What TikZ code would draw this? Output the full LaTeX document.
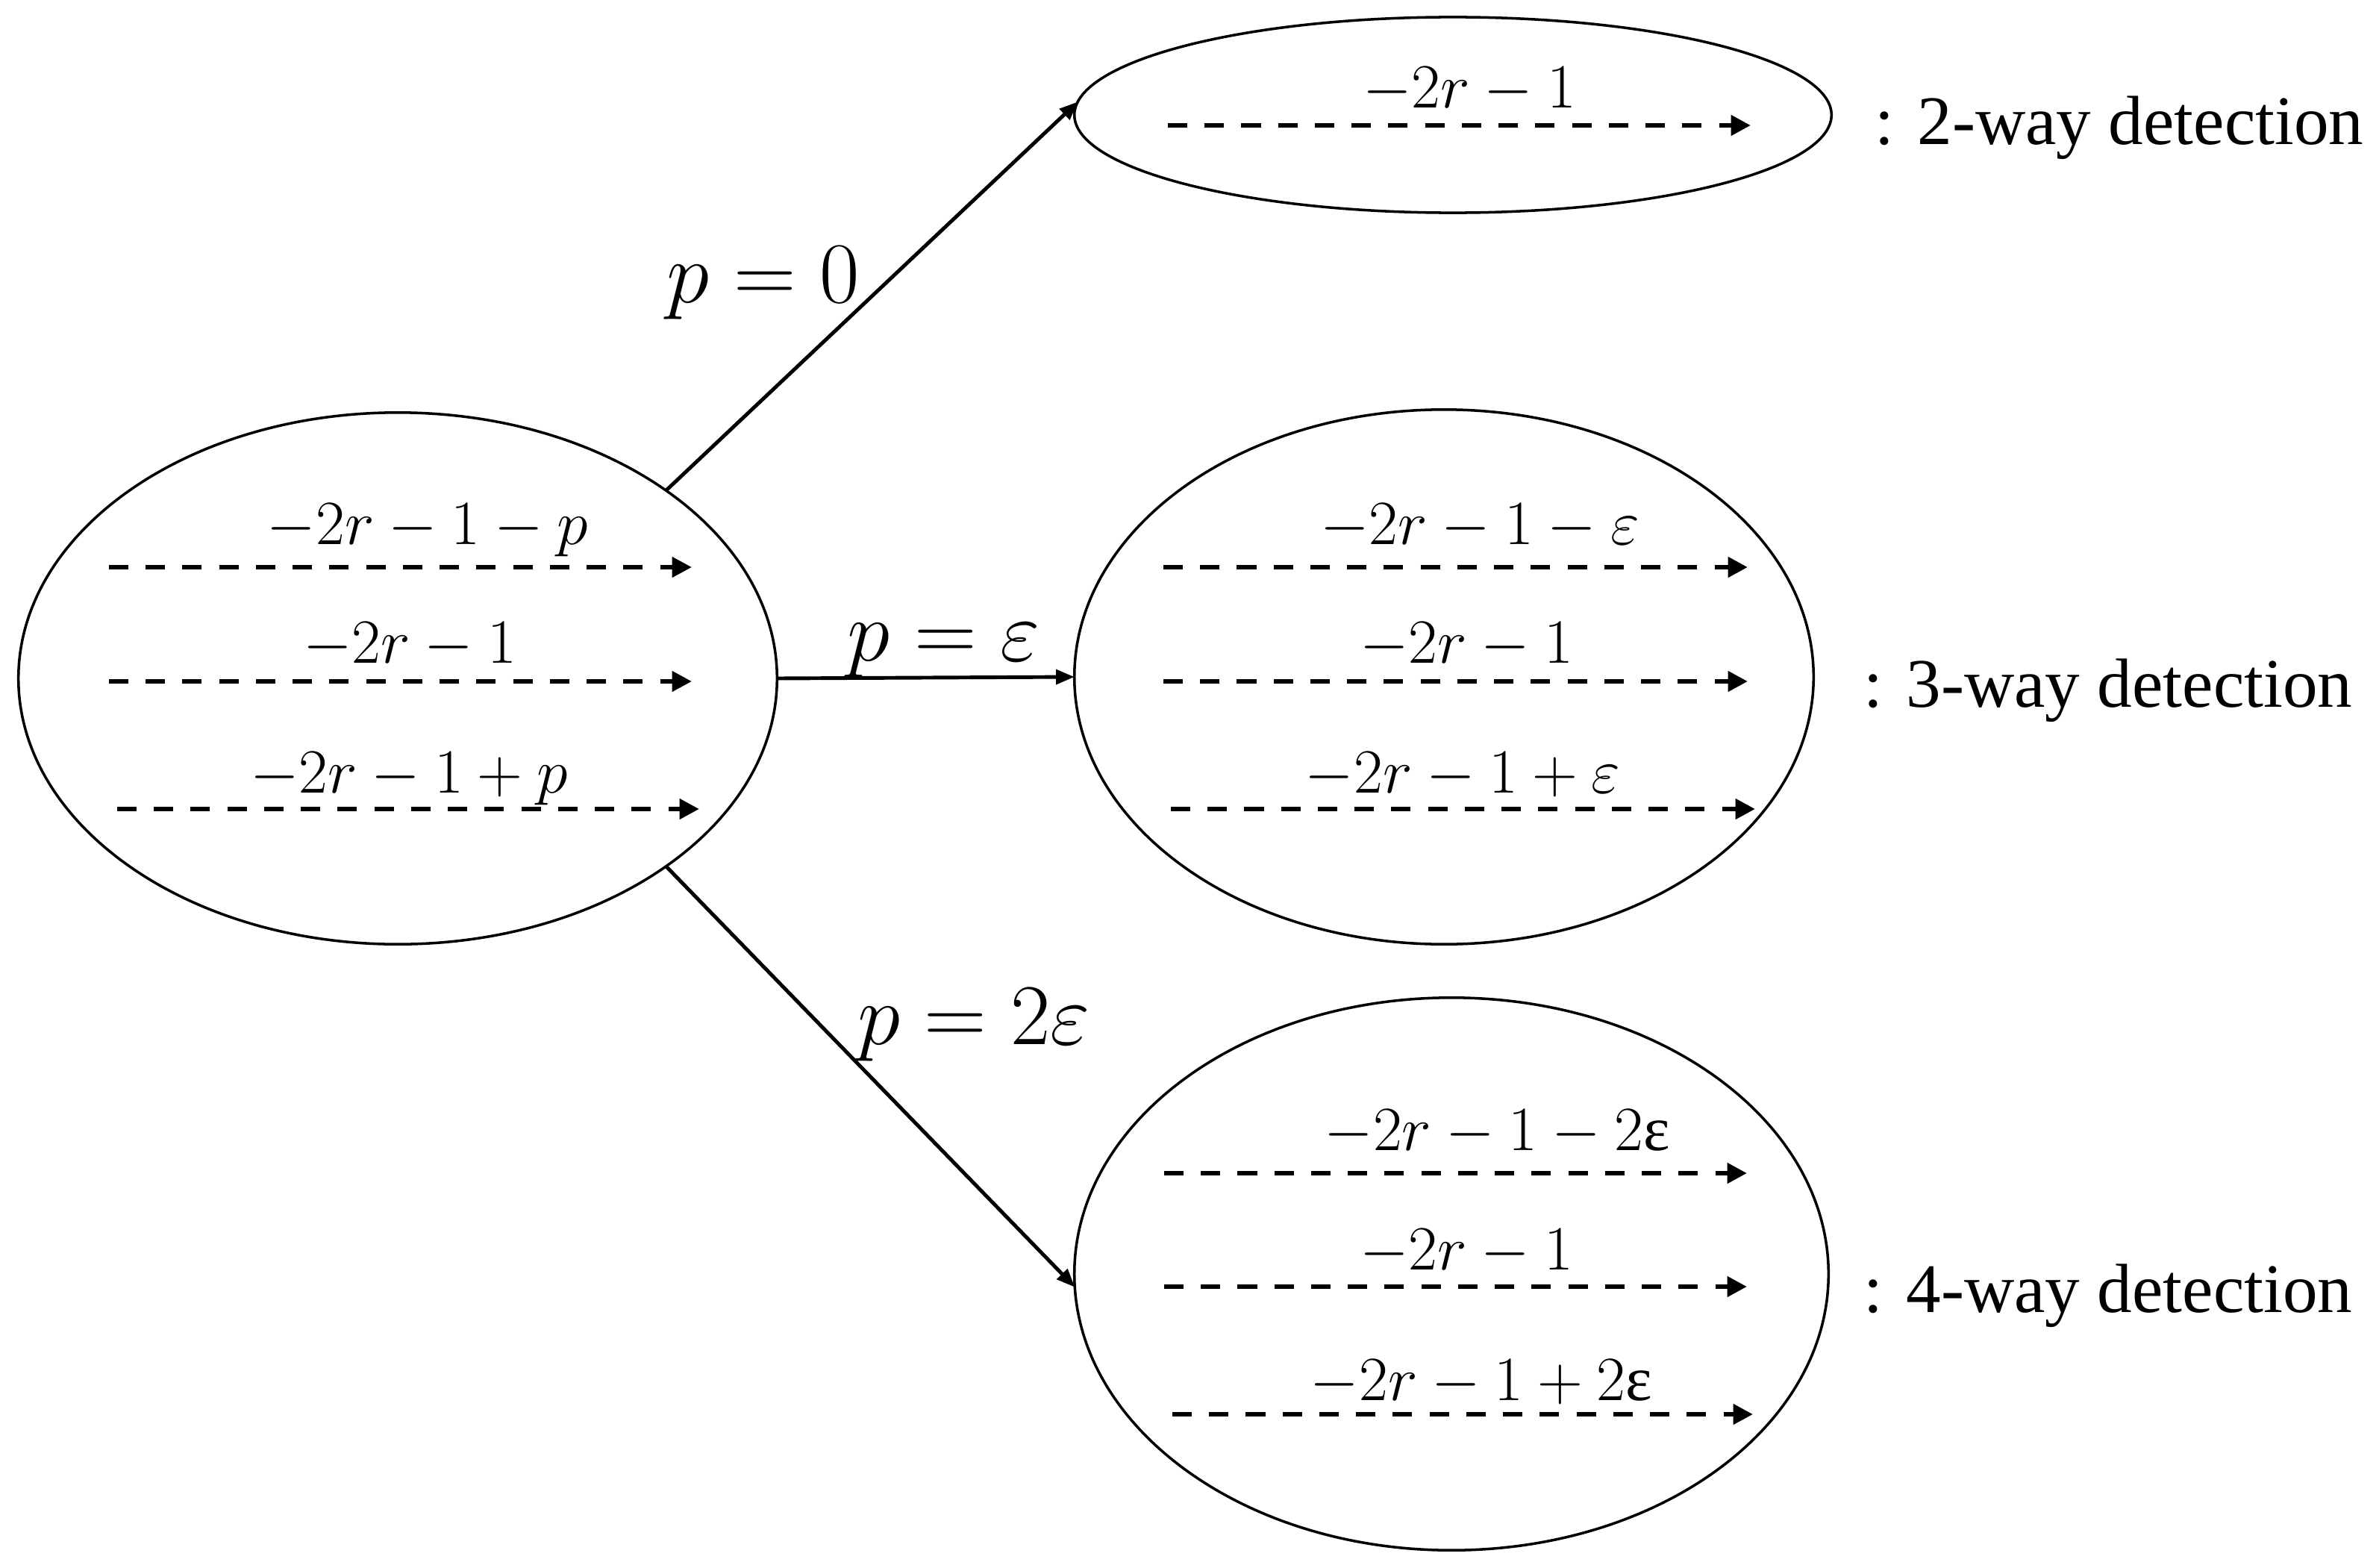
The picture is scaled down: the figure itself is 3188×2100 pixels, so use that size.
\RequirePackage{fix-cm}
\documentclass[tikz,border=0pt]{standalone}
\usepackage{amsmath}
\usepackage{fontspec}
\setmainfont{Liberation Serif}
\usetikzlibrary{arrows.meta,shapes.geometric}
\begin{document}
\begin{tikzpicture}[x=0.01cm,y=-0.01cm,
  ell/.style={draw, ellipse, line width=1pt, inner sep=0pt, outer sep=0pt},
  conn/.style={line width=1.4pt, -{Triangle[length=7pt,width=5.5pt]}},
  darr/.style={line width=1.8pt, dash pattern=on 7.4pt off 6.6pt, -{Triangle[length=7.5pt,width=7.5pt]}},
  mlbl/.style={anchor=base, inner sep=0pt, font=\fontsize{24}{28}\selectfont},
  plbl/.style={anchor=base, inner sep=0pt, font=\fontsize{33}{38}\selectfont},
  dlbl/.style={anchor=base west, inner sep=0pt, font=\fontsize{26.5}{30}\selectfont}]
\useasboundingbox (0,0) rectangle (3188,2100);

% ellipses
\node[ell, minimum width=10.16cm, minimum height=7.12cm] (L) at (533,909) {};
\node[ell, minimum width=10.14cm, minimum height=2.62cm] (T) at (1947,154) {};
\node[ell, minimum width=9.90cm, minimum height=7.16cm] (M) at (1935,907) {};
\node[ell, minimum width=10.10cm, minimum height=7.40cm] (B) at (1945,1707) {};

% connectors
\draw[conn] (L.35) -- (T.178);
\draw[conn] (L.east) -- (M.west);
\draw[conn] (L.-35) -- (B.182);

% connector labels
\node[plbl] (p0) at (1023,405) {$p=0$};
\node[plbl] (pe) at (1265,885) {$p=\varepsilon$};
\node[plbl] (p2e) at (1305,1399) {$p=2\varepsilon$};

% left ellipse
\coordinate (l1s) at (146,760); \coordinate (l1e) at (927,760);
\coordinate (l2s) at (146,913); \coordinate (l2e) at (927,913);
\coordinate (l3s) at (157,1084); \coordinate (l3e) at (937,1084);
\draw[darr] (l1s) -- (l1e);
\draw[darr] (l2s) -- (l2e);
\draw[darr] (l3s) -- (l3e);
\node[mlbl] (ll1) at (573,729) {$-2r-1-p$};
\node[mlbl] (ll2) at (549,888) {$-2r-1$};
\node[mlbl] (ll3) at (548,1062) {$-2r-1+p$};

% top ellipse
\coordinate (t1s) at (1565,168); \coordinate (t1e) at (2346,168);
\draw[darr] (t1s) -- (t1e);
\node[mlbl] (tl1) at (1969,145) {$-2r-1$};
\node[dlbl] (d2) at (2512,193) {: 2-way detection};

% middle ellipse
\coordinate (m1s) at (1559,760); \coordinate (m1e) at (2342,760);
\coordinate (m2s) at (1559,913); \coordinate (m2e) at (2342,913);
\coordinate (m3s) at (1569,1084); \coordinate (m3e) at (2352,1084);
\draw[darr] (m1s) -- (m1e);
\draw[darr] (m2s) -- (m2e);
\draw[darr] (m3s) -- (m3e);
\node[mlbl] (ml1) at (1983,729) {$-2r-1-\varepsilon$};
\node[mlbl] (ml2) at (1965,888) {$-2r-1$};
\node[mlbl] (ml3) at (1960,1062) {$-2r-1+\varepsilon$};
\node[dlbl] (d3) at (2497,947) {: 3-way detection};

% bottom ellipse
\coordinate (b1s) at (1560,1572); \coordinate (b1e) at (2341,1572);
\coordinate (b2s) at (1560,1724); \coordinate (b2e) at (2341,1724);
\coordinate (b3s) at (1571,1895); \coordinate (b3e) at (2349,1895);
\draw[darr] (b1s) -- (b1e);
\draw[darr] (b2s) -- (b2e);
\draw[darr] (b3s) -- (b3e);
\node[mlbl] (bl1) at (2006,1541) {$-2r-1-2\hbox{ε}$};
\node[mlbl] (bl2) at (1965,1701) {$-2r-1$};
\node[mlbl] (bl3) at (1985,1876) {$-2r-1+2\hbox{ε}$};
\node[dlbl] (d4) at (2497,1758) {: 4-way detection};
\end{tikzpicture}
\end{document}
